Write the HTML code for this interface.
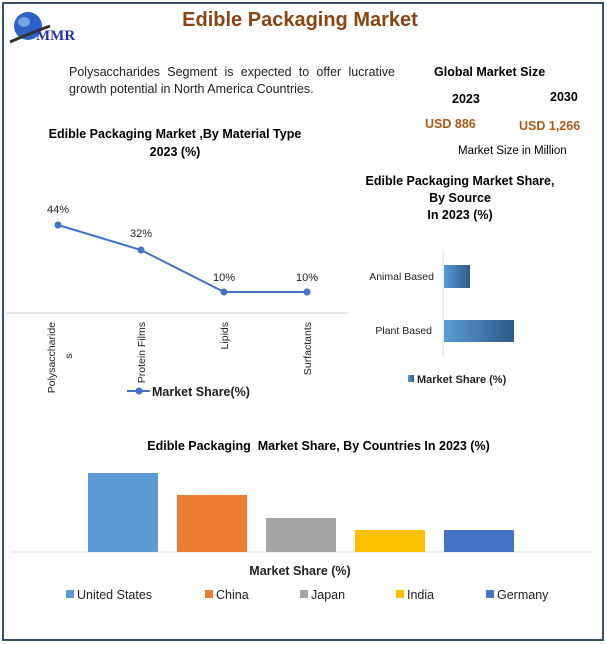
<!DOCTYPE html>
<html><head><meta charset="utf-8"><style>
body{margin:0;width:607px;height:645px;background:#fff;font-family:"Liberation Sans",sans-serif;position:relative;overflow:hidden}
.a{position:absolute;white-space:nowrap}
.b{font-weight:bold}
</style></head><body>
<div class="a" style="left:2px;top:2px;width:598px;height:635px;border:2px solid #3a5068"></div>
<svg class="a" style="left:8px;top:6px" width="90" height="42">
<ellipse cx="20" cy="20" rx="14" ry="14" fill="#2a62c8"/>
<ellipse cx="16" cy="16" rx="6" ry="5" fill="#8fc0f0" opacity="0.7"/>
<path d="M2 36 Q20 28 42 20" stroke="#333" stroke-width="3" fill="none"/>
<text x="28" y="34" font-family="Liberation Serif" font-weight="bold" font-size="15" fill="#2233aa">MMR</text>
</svg>
<div class="a b" style="left:0;width:600px;text-align:center;top:9px;font-size:20px;color:#8b4513">Edible Packaging Market</div>
<div class="a" style="left:69px;top:64px;width:326px;font-size:12.5px;line-height:17px;white-space:normal;text-align:justify;color:#222">Polysaccharides Segment is expected to offer lucrative growth potential in North America Countries.</div>
<div class="a b" style="left:434px;top:65px;font-size:12.5px">Global Market Size</div>
<div class="a b" style="left:452px;top:92px;font-size:12.5px">2023</div>
<div class="a b" style="left:550px;top:90px;font-size:12.5px">2030</div>
<div class="a b" style="left:425px;top:117px;font-size:12.5px;color:#b05a1a">USD 886</div>
<div class="a b" style="left:519px;top:119px;font-size:12.5px;color:#b05a1a">USD 1,266</div>
<div class="a" style="left:458px;top:145px;font-size:11.5px">Market Size in Million</div>
<div class="a b" style="left:30px;width:290px;text-align:center;top:125px;font-size:12.5px;line-height:18px">Edible Packaging Market ,By Material Type<br>2023 (%)</div>
<svg class="a" style="left:0;top:190px" width="360" height="220" font-family="Liberation Sans" font-size="11" fill="#222">
<line x1="7" y1="123" x2="348" y2="123" stroke="#ccc"/>
<polyline points="58,35 141,60 224,102 307,102" fill="none" stroke="#4472c4" stroke-width="2"/>
<g fill="#4472c4"><circle cx="58" cy="35" r="3.5"/><circle cx="141" cy="60" r="3.5"/><circle cx="224" cy="102" r="3.5"/><circle cx="307" cy="102" r="3.5"/></g>
<text x="58" y="23" text-anchor="middle">44%</text><text x="141" y="47" text-anchor="middle">32%</text>
<text x="224" y="91" text-anchor="middle">10%</text><text x="307" y="91" text-anchor="middle">10%</text>
<g font-size="10.5">
<text transform="translate(55,132) rotate(-90)" text-anchor="end">Polysaccharide</text>
<text transform="translate(72,166) rotate(-90)" text-anchor="middle">s</text>
<text transform="translate(145,132) rotate(-90)" text-anchor="end">Protein Films</text>
<text transform="translate(228,132) rotate(-90)" text-anchor="end">Lipids</text>
<text transform="translate(311,132) rotate(-90)" text-anchor="end">Surfactants</text>
</g>
<line x1="127" y1="201" x2="150" y2="201" stroke="#4472c4" stroke-width="2"/><circle cx="139" cy="201" r="3.5" fill="#4472c4"/>
<text x="152" y="206" font-weight="bold" font-size="12.5">Market Share(%)</text>
</svg>
<div class="a b" style="left:350px;width:220px;text-align:center;top:173px;font-size:12.5px;line-height:17px">Edible Packaging Market Share,<br>By Source<br>In 2023 (%)</div>
<svg class="a" style="left:360px;top:240px" width="200" height="160" font-family="Liberation Sans" font-size="10.5" fill="#222">
<defs><linearGradient id="g"><stop offset="0" stop-color="#5b9bd5"/><stop offset="1" stop-color="#2e5a85"/></linearGradient></defs>
<line x1="83" y1="10" x2="83" y2="117" stroke="#ddd"/>
<rect x="84" y="25" width="26" height="23" fill="url(#g)"/>
<rect x="84" y="80" width="70" height="22" fill="url(#g)"/>
<text x="74" y="40" text-anchor="end">Animal Based</text>
<text x="72" y="94" text-anchor="end">Plant Based</text>
<rect x="48" y="135" width="6" height="7" fill="url(#g)"/>
<text x="57" y="143" font-weight="bold" font-size="11">Market Share (%)</text>
</svg>
<div class="a b" style="left:0;width:637px;text-align:center;top:439px;font-size:12.5px">Edible Packaging&nbsp; Market Share, By Countries In 2023 (%)</div>
<svg class="a" style="left:0;top:460px" width="607" height="150" font-family="Liberation Sans" font-size="12.5" fill="#222">
<line x1="12" y1="92" x2="592" y2="92" stroke="#ddd"/>
<rect x="88" y="13" width="70" height="79" fill="#5b9bd5"/>
<rect x="177" y="35" width="70" height="57" fill="#ed7d31"/>
<rect x="266" y="58" width="70" height="34" fill="#a5a5a5"/>
<rect x="355" y="70" width="70" height="22" fill="#ffc000"/>
<rect x="444" y="70" width="70" height="22" fill="#4472c4"/>
<text x="300" y="115" text-anchor="middle" font-weight="bold">Market Share (%)</text>
<rect x="66" y="130" width="8" height="8" fill="#5b9bd5"/><text x="77" y="139">United States</text>
<rect x="205" y="130" width="8" height="8" fill="#ed7d31"/><text x="216" y="139">China</text>
<rect x="300" y="130" width="8" height="8" fill="#a5a5a5"/><text x="311" y="139">Japan</text>
<rect x="396" y="130" width="8" height="8" fill="#ffc000"/><text x="407" y="139">India</text>
<rect x="486" y="130" width="8" height="8" fill="#4472c4"/><text x="497" y="139">Germany</text>
</svg>
</body></html>
